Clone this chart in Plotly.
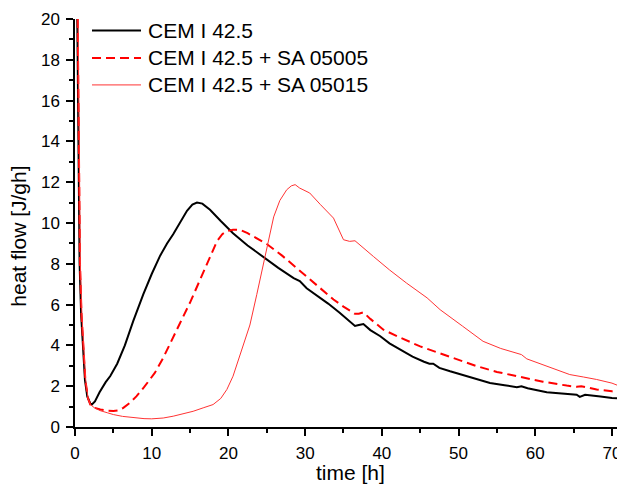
import plotly.graph_objects as go

# ---- data ----
cem_x = [0.3, 0.45, 0.6, 0.8, 1.0, 1.3, 1.6, 2.0, 2.2, 2.6, 3.2, 4.0, 4.6, 5.5, 6.5,
         7.6, 8.9, 10.0, 11.1, 12.0, 12.8, 13.7, 14.6, 15.3, 15.9, 16.6, 17.6, 19.0, 20.6, 22.5,
         24.6, 26.5, 28.5, 29.3, 30.2, 31.5, 33.0, 34.5, 35.5, 36.5, 37.0, 37.6, 38.5, 39.8, 41.0,
         42.4, 44.0, 45.5, 46.2, 46.7, 47.5, 48.9, 51.0, 54.1, 56.0, 57.6, 58.2, 59.0, 61.5, 63.5,
         65.4, 65.8, 66.5, 68.5, 70.0, 71.7]
cem_y = [20, 12, 8, 5.5, 4.0, 2.3, 1.5, 1.15, 1.1, 1.25, 1.7, 2.2, 2.5, 3.1, 4.0,
         5.2, 6.5, 7.5, 8.4, 9.0, 9.45, 10.0, 10.6, 10.9, 11.0, 10.95, 10.65, 10.1, 9.5, 8.9,
         8.3, 7.8, 7.3, 7.15, 6.8, 6.45, 6.05, 5.6, 5.25, 4.95, 5.0, 5.05, 4.75, 4.45, 4.1,
         3.8, 3.45, 3.2, 3.1, 3.1, 2.9, 2.73, 2.5, 2.16, 2.05, 1.95, 2.0, 1.9, 1.7, 1.65,
         1.58, 1.48, 1.58, 1.5, 1.42, 1.38]

sa05005_x = [0.35, 0.5, 0.65, 0.85, 1.05, 1.35, 1.7, 2.0, 2.5, 3.3, 4.2, 5.0, 5.7, 6.3, 7.2,
             8.0, 9.0, 9.8, 10.4, 11.5, 12.8, 13.7, 15.0, 16.3, 17.5, 18.5, 19.2, 19.8, 20.6, 21.5,
             22.5, 23.5, 25.0, 27.0, 29.5, 31.5, 33.7, 35.0, 36.5, 37.0, 37.6, 38.5, 40.2, 42.0, 43.2,
             45.0, 47.2, 49.5, 52.4, 55.0, 58.0, 61.0, 64.1, 65.0, 65.4, 66.0, 68.0, 70.0, 71.7]
sa05005_y = [20, 12, 8, 5.5, 4.0, 2.3, 1.4, 1.1, 0.95, 0.86, 0.8, 0.78, 0.82, 0.94, 1.2,
             1.5, 1.95, 2.33, 2.65, 3.39, 4.45, 5.1, 6.1, 7.2, 8.2, 9.1, 9.45, 9.6, 9.67, 9.67,
             9.5, 9.3, 8.97, 8.4, 7.6, 6.95, 6.25, 5.9, 5.55, 5.55, 5.62, 5.3, 4.77, 4.45, 4.25,
             3.95, 3.66, 3.35, 2.98, 2.7, 2.46, 2.22, 2.03, 1.98, 1.97, 2.0, 1.84, 1.75, 1.67]

sa05015_x = [0.4, 0.55, 0.7, 0.9, 1.1, 1.4, 1.7, 2.0, 2.5, 3.3, 4.2, 5.0, 6.2, 7.6, 9.0,
             10.0, 11.5, 12.8, 14.0, 15.4, 16.8, 18.0, 19.0, 19.8, 20.6, 21.5, 22.8, 23.7, 24.6, 25.3,
             25.9, 26.7, 27.6, 28.2, 28.7, 29.3, 30.6, 32.0, 33.7, 35.0, 35.8, 36.5, 37.5, 38.9, 41.0,
             43.2, 45.9, 47.6, 50.5, 53.2, 55.5, 57.4, 58.2, 58.9, 61.5, 64.5, 66.3, 68.0, 70.0, 71.1,
             71.7]
sa05015_y = [20, 12, 8, 5.5, 4.0, 2.3, 1.4, 1.1, 0.95, 0.8, 0.7, 0.61, 0.52, 0.45, 0.41,
             0.40, 0.44, 0.53, 0.63, 0.77, 0.95, 1.1, 1.4, 1.84, 2.49, 3.47, 5.0, 6.5, 8.04, 9.3,
             10.3, 11.1, 11.63, 11.82, 11.88, 11.71, 11.47, 10.9, 10.24, 9.18, 9.1, 9.13, 8.8, 8.36, 7.7,
             7.06, 6.33, 5.75, 4.95, 4.2, 3.85, 3.63, 3.55, 3.34, 3.0, 2.57, 2.45, 2.33, 2.15, 2.0,
             1.9]

series_names = ["CEM I 42.5", "CEM I 42.5 + SA 05005", "CEM I 42.5 + SA 05015"]
x_title = "time [h]"
y_title = "heat flow [J/gh]"

# ---- layout geometry (screen pixels; page body adds an 8px margin) ----
VIEW_W, VIEW_H = 625, 495
OFF = 8
W, H = VIEW_W - OFF, VIEW_H - 2 * OFF      # no page overflow -> no scrollbars
L_S, R_S, T_S, B_S = 75, 625, 19, 427.5   # plot area edges on screen
ML = L_S - OFF
MT = T_S - OFF
MR = W - (R_S - OFF)
MB = H - (B_S - OFF)
PW, PH = W - ML - MR, H - MT - MB
FONT = "Liberation Sans, Arial, sans-serif"


def px(xs):
    return (xs - L_S) / PW


def py(ys):
    return (B_S - ys) / PH


styles = [
    dict(color="#000000", width=2, dash="solid"),
    dict(color="#ff0000", width=2, dash="9px,5px"),
    dict(color="#ff3333", width=1, dash="solid"),
]

fig = go.Figure()
for xs, ys, name, st in zip([cem_x, sa05005_x, sa05015_x],
                            [cem_y, sa05005_y, sa05015_y], series_names, styles):
    fig.add_trace(go.Scatter(x=xs, y=ys, mode="lines", name=name,
                             line=dict(color=st["color"], width=st["width"], dash=st["dash"]),
                             showlegend=False, cliponaxis=True))

# manual legend
legend_rows = [30.5, 58, 85]
shapes = []
annotations = []
for yrow, name, st in zip(legend_rows, series_names, styles):
    shapes.append(dict(type="line", xref="paper", yref="paper",
                       x0=px(92), x1=px(141), y0=py(yrow), y1=py(yrow),
                       line=dict(color=st["color"], width=st["width"], dash=st["dash"])))
    annotations.append(dict(xref="paper", yref="paper", x=px(146), y=py(yrow),
                            text=name, showarrow=False, xanchor="left", yanchor="middle",
                            font=dict(family=FONT, size=21, color="#000")))

annotations.append(dict(xref="paper", yref="paper", x=px(350), y=py(473), text=x_title,
                        showarrow=False, xanchor="center", yanchor="middle",
                        font=dict(family=FONT, size=21, color="#000")))
annotations.append(dict(xref="paper", yref="paper", x=px(19), y=py(237), text=y_title,
                        textangle=-90, showarrow=False, xanchor="center", yanchor="middle",
                        font=dict(family=FONT, size=21, color="#000")))

axis_common = dict(showgrid=False, zeroline=False, showline=True, linecolor="#000",
                   linewidth=1.5, ticks="outside", ticklen=7, tickwidth=1.5, tickcolor="#000",
                   tickfont=dict(family=FONT, size=17, color="#000"), mirror=False,
                   automargin=False, ticklabelstandoff=3)

fig.update_layout(
    width=W, height=H,
    margin=dict(l=ML, r=MR, t=MT, b=MB, autoexpand=False),
    paper_bgcolor="white", plot_bgcolor="white",
    xaxis=dict(range=[0, 71.7], dtick=10, tick0=0,
               minor=dict(dtick=5, ticklen=4, tickwidth=1.5, tickcolor="#000", ticks="outside"),
               **axis_common),
    yaxis=dict(range=[0, 20], dtick=2, tick0=0,
               minor=dict(dtick=1, ticklen=4, tickwidth=1.5, tickcolor="#000", ticks="outside"),
               **axis_common),
    shapes=shapes, annotations=annotations,
    showlegend=False,
)

fig.write_html("out.html")
